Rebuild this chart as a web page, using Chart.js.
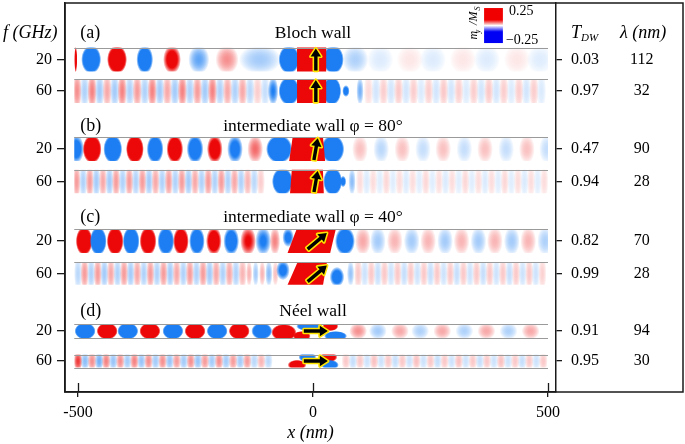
<!DOCTYPE html>
<html>
<head>
<meta charset="utf-8">
<script src="https://cdn.jsdelivr.net/npm/chart.js@4.4.1/dist/chart.umd.min.js"></script>
<style>html,body{margin:0;padding:0;background:#fff}</style>
</head>
<body>
<canvas id="c" width="685" height="444"></canvas>
<script>
// ---- values ----
const panels = ['(a)', '(b)', '(c)', '(d)'];
const titles = ['Bloch wall', 'intermediate wall \u03c6 = 80\u00b0', 'intermediate wall \u03c6 = 40\u00b0', 'N\u00e9el wall'];
const freqs = [20, 60, 20, 60, 20, 60, 20, 60];
const tDW = [0.03, 0.97, 0.47, 0.94, 0.82, 0.99, 0.91, 0.95];
const lambda = [112, 32, 90, 28, 70, 28, 94, 30];
const xTicks = [-500, 0, 500];
const phi = [90, 80, 40, 0];       // wall moment angle (deg)
const arrowX = [6, 6, 9, 6];       // wall centre, nm
const stripX = [-508, 500];        // simulated strip, nm

// blobs: [x nm, m_y (1 = colour limit), width nm, vertical offset, vertical size]
const a20 = [[-505, 1.5, 6], [-472, -3, 38], [-417, 3, 38], [-358, -2.4, 32], [-300, 1.5, 34],
  [-243, -0.7, 40], [-183, 0.45, 44], [-113, -0.4, 80], [-51, -3.5, 40], [43, -3.5, 40], [90, -0.35, 50],
  [143, -0.15, 50], [206, 0.1, 50], [255, -0.15, 50], [319, 0.1, 50], [370, -0.15, 50], [434, 0.1, 50], [483, -0.14, 50]];
const a60 = [[-85, -1, 20], [-51, -3.5, 40], [40, -3.5, 36], [70, -1.5, 14, 0, 0.5], [100, -0.6, 14]];
const a60L = [0.45, -0.35, 0.5, -0.4, 0.35, -0.4, 0.5, -0.35, 0.4, -0.35, 0.5, -0.4, 0.35, -0.4, 0.5, -0.35, 0.4, -0.4, 0.5, -0.35, 0.35, -0.35, 0.35, -0.3, 0.2, -0.25];
const a60R = [0.15, -0.2, 0.2, -0.2, 0.22, -0.2, 0.2, -0.16, 0.2, -0.2, 0.22, -0.2, 0.2, -0.16, 0.2, -0.2, 0.22, -0.2, 0.2, -0.16, 0.2, -0.2, 0.2, -0.16];

const b20 = [[-504, -1.5, 30], [-470, 3, 36], [-426, -3, 36], [-379, 3, 34], [-336, -2.5, 32], [-294, 2.3, 32],
  [-251, -2, 32], [-209, 1.7, 30], [-166, -1.4, 30], [-123, 0.6, 30], [-72, -3.5, 50], [42, -3.5, 44],
  [100, 0.25, 30], [145, -0.3, 30], [190, 0.25, 30], [234, -0.25, 30], [277, 0.25, 30], [322, -0.25, 30],
  [366, 0.25, 30], [411, -0.25, 30], [455, 0.25, 30], [498, -0.25, 30]];
const b60 = [[-65, -3.5, 40], [42, -3.5, 36], [64, -1.5, 12, 0, 0.5], [83, -0.5, 14]];
const b60L = [0.4, -0.35, 0.4, -0.4, 0.35, -0.4, 0.4, -0.35, 0.4, -0.35, 0.4, -0.4, 0.35, -0.35, 0.4, -0.35, 0.4, -0.4, 0.35, -0.35, 0.4, -0.35, 0.4, -0.35, 0.35, -0.35, 0.3, -0.3, 0.2];
const b60R = [0.14, -0.16, 0.14, -0.14, 0.16, -0.14, 0.14, -0.16, 0.14, -0.14, 0.16, -0.14, 0.14, -0.16, 0.14, -0.14, 0.16, -0.14, 0.14, -0.16, 0.14, -0.14, 0.16, -0.14, 0.14, -0.16, 0.14, -0.14, 0.14];

const c20 = [[-487, 3, 32], [-457, -3, 32], [-421, 3, 32], [-387, -3, 32], [-351, 2.8, 32], [-313, -2.6, 32],
  [-281, 2.4, 30], [-247, -2.2, 30], [-211, 1.8, 30], [-174, -1.8, 30], [-138, 1.1, 30], [-106, -1.1, 30],
  [-81, 0.5, 20], [-53, -1.3, 22, -0.3, 0.8], [68, -2.4, 38], [106, 0.35, 30], [138, -0.4, 30], [174, 0.3, 30],
  [210, -0.4, 30], [245, 0.3, 30], [281, -0.4, 30], [316, 0.3, 30], [352, -0.4, 30], [387, 0.3, 30],
  [423, -0.4, 30], [458, 0.3, 30], [494, -0.35, 30]];
const c60 = [[-136, 0.3, 12], [-122, -0.4, 12], [-108, 0.3, 12], [-94, -0.5, 14], [-80, 0.25, 12],
  [-64, -1.3, 26, -0.3, 0.9], [51, -1.6, 28, 0.3, 0.9], [80, -0.45, 14]];
const c60L = [-0.3, 0.4, -0.35, 0.4, -0.4, 0.35, -0.35, 0.4, -0.4, 0.35, -0.35, 0.4, -0.35, 0.4, -0.4, 0.35, -0.35, 0.4, -0.35, 0.4, -0.4, 0.35, -0.35, 0.35, -0.35, 0.3];
const c60R = [0.22, -0.22, 0.22, -0.25, 0.22, -0.22, 0.22, -0.25, 0.22, -0.22, 0.22, -0.25, 0.22, -0.22, 0.22, -0.25, 0.22, -0.22, 0.22, -0.25, 0.22, -0.22, 0.22, -0.25, 0.22, -0.22, 0.22, -0.22, 0.18];

const d20 = [[-485, -4, 40], [-438, 4, 40], [-394, -4, 40], [-347, 4, 40], [-298, -4, 40], [-251, 4, 40],
  [-204, -4, 40], [-157, 4, 40], [-109, -3, 40], [-62, 4, 48, 0.2],
  [-10, -3, 46, -0.7, 0.7], [-24, 3, 34, 0.7, 0.7], [37, 3, 30, -0.7, 0.7], [48, -3, 44, 0.7, 0.7],
  [96, 0.45, 34], [138, -0.4, 34], [185, 0.35, 34], [228, -0.35, 34], [275, 0.35, 34], [322, -0.35, 34],
  [369, 0.35, 34], [416, -0.35, 34], [463, 0.35, 34]];
const d60 = [[-34, 2.5, 36, 0.6, 0.8], [-12, -2.5, 34, -0.6, 0.8], [33, 2.5, 34, -0.6, 0.8], [36, -2.5, 34, 0.6, 0.8]];
const d60L = [0.8, -0.5, 0.45, -0.6, 0.5, -0.45, 0.45, -0.4, 0.5, -0.45, 0.45, -0.4, 0.45, -0.45, 0.4, -0.4, 0.45, -0.45, 0.4, -0.4, 0.45, -0.4, 0.4, -0.4, 0.4, -0.3, 0.3, -0.3];
const d60R = [0.22, -0.25, 0.22, -0.22, 0.25, -0.22, 0.22, -0.25, 0.22, -0.22, 0.25, -0.22, 0.22, -0.25, 0.22, -0.22, 0.25, -0.22, 0.22, -0.25, 0.22, -0.22, 0.25, -0.22, 0.22, -0.25, 0.22, -0.22, 0.22];

// red wall core per strip: [left top, right top, left bottom, right bottom] nm
const walls = [[-34, 28, -34, 28], [-34, 28, -34, 28], [-43, 21, -51, 26], [-45, 21, -49, 23],
  [-34, 49, -55, 36], [-32, 30, -55, 21], null, null];

// ---- layout ----
const rowY = [0, 0.35, 0.995, 1.355, 2.017, 2.378, 3.017, 3.35];
const headY = [-0.29, 0.74, 1.75, 2.8];
const stripH = [0.267, 0.267, 0.267, 0.26, 0.267, 0.25, 0.156, 0.145];
const RED = [236, 8, 8], BLUE = [28, 126, 242];

const rows = [
  { blobs: a20 }, { blobs: a60, left: [-502, a60L], right: [118, a60R] },
  { blobs: b20 }, { blobs: b60, left: [-503, b60L], right: [100, b60R] },
  { blobs: c20 }, { blobs: c60, left: [-500, c60L], right: [96, c60R] },
  { blobs: d20 }, { blobs: d60, left: [-500, d60L], right: [70, d60R] },
];

const datasets = rows.map((row, r) => {
  const pts = row.blobs.map(b => ({ x: b[0], y: rowY[r], a: b[1], w: b[2] * 1.12, dy: b[3] || 0, ry: b[4] || 1.2 }));
  const step = lambda[r] / 2;
  [row.left, row.right].forEach(g => {
    if (!g) return;
    g[1].forEach((v, k) => pts.push({ x: g[0] + k * step, y: rowY[r], a: v, w: step * 1.25, dy: 0, ry: 1.6 }));
  });
  return { data: pts, pointRadius: 0, pointHoverRadius: 0, showLine: false, xAxisID: 'x', yAxisID: 'y' };
});

function blob(ctx, cx, cy, rx, ry, a) {
  const c = a > 0 ? RED : BLUE;
  const m = Math.abs(a);
  ctx.save();
  ctx.translate(cx, cy);
  ctx.scale(rx, ry);
  const g = ctx.createRadialGradient(0, 0, 0, 0, 0, 1);
  for (let i = 0; i <= 12; i++) {
    const r = i / 12;
    const al = Math.max(0, Math.min(1, m * (1 - r * r)));
    g.addColorStop(r, `rgba(${c[0]},${c[1]},${c[2]},${al.toFixed(3)})`);
  }
  ctx.fillStyle = g;
  ctx.beginPath();
  ctx.arc(0, 0, 1, 0, Math.PI * 2);
  ctx.fill();
  ctx.restore();
}

function arrow(ctx, cx, cy, ang, L) {
  ctx.save();
  ctx.translate(cx, cy);
  ctx.rotate(-ang * Math.PI / 180);
  const hl = 8, sw = 1.7, hw = 5.2;
  ctx.beginPath();
  ctx.moveTo(-L / 2, -sw);
  ctx.lineTo(L / 2 - hl, -sw);
  ctx.lineTo(L / 2 - hl, -hw);
  ctx.lineTo(L / 2, 0);
  ctx.lineTo(L / 2 - hl, hw);
  ctx.lineTo(L / 2 - hl, sw);
  ctx.lineTo(-L / 2, sw);
  ctx.closePath();
  ctx.lineJoin = 'round';
  ctx.strokeStyle = '#ffe400';
  ctx.lineWidth = 3.2;
  ctx.stroke();
  ctx.fillStyle = '#000';
  ctx.fill();
  ctx.restore();
}

const strips = {
  id: 'strips',
  beforeDatasetsDraw(chart) {
    const { ctx, scales: { x, y } } = chart;
    const unit = Math.abs(y.getPixelForValue(1) - y.getPixelForValue(0));
    const x0 = x.getPixelForValue(stripX[0]), x1 = x.getPixelForValue(stripX[1]);
    rows.forEach((row, r) => {
      const yc = y.getPixelForValue(rowY[r]);
      const h = stripH[r] * unit;
      const top = yc - h / 2, bot = yc + h / 2;
      ctx.save();
      ctx.beginPath();
      ctx.rect(x0, top, x1 - x0, h);
      ctx.clip();
      ctx.fillStyle = '#fff';
      ctx.fillRect(x0, top, x1 - x0, h);
      const meta = chart.getDatasetMeta(r);
      meta.data.forEach((el, k) => {
        const p = datasets[r].data[k];
        const rx = Math.abs(x.getPixelForValue(p.x + p.w / 2) - el.x);
        blob(ctx, el.x, el.y + p.dy * h / 2, rx, p.ry * h / 2, p.a);
      });
      const w = walls[r];
      if (w) {
        ctx.fillStyle = 'rgb(236,8,8)';
        ctx.beginPath();
        ctx.moveTo(x.getPixelForValue(w[0]), top - 1);
        ctx.lineTo(x.getPixelForValue(w[1]), top - 1);
        ctx.lineTo(x.getPixelForValue(w[3]), bot + 1);
        ctx.lineTo(x.getPixelForValue(w[2]), bot + 1);
        ctx.closePath();
        ctx.fill();
      }
      ctx.restore();
      ctx.strokeStyle = '#9a9a9a';
      ctx.lineWidth = 1;
      ctx.beginPath();
      ctx.moveTo(x0, Math.round(top) + 0.5);
      ctx.lineTo(x1, Math.round(top) + 0.5);
      if (r >= 6) {
        ctx.moveTo(x0, Math.round(bot) + 0.5);
        ctx.lineTo(x1, Math.round(bot) + 0.5);
      }
      ctx.stroke();
      const gi = Math.floor(r / 2);
      const L = gi === 2 ? 25 : gi === 3 ? 24 : h - 2;
      arrow(ctx, x.getPixelForValue(arrowX[gi]), yc, phi[gi], L);
    });
  },
  afterDraw(chart) {
    const { ctx, chartArea: ca, scales: { x, y, y2, y3 } } = chart;
    ctx.save();
    // frame
    ctx.strokeStyle = '#1a1a1a';
    ctx.lineWidth = 1.5;
    ctx.strokeRect(ca.left, ca.top, chart.width - 2 - ca.left, ca.bottom - ca.top);
    // inner half of x ticks
    ctx.lineWidth = 1.3;
    xTicks.forEach(v => {
      const px = Math.round(x.getPixelForValue(v)) + 0.5;
      ctx.beginPath();
      ctx.moveTo(px, ca.bottom - 9);
      ctx.lineTo(px, ca.bottom);
      ctx.stroke();
    });
    ctx.fillStyle = '#000';
    ctx.textBaseline = 'middle';
    // panel letters and titles
    panels.forEach((p, i) => {
      const py = y.getPixelForValue(headY[i]);
      ctx.font = '18px "Liberation Serif"';
      ctx.textAlign = 'left';
      ctx.fillText(p, x.getPixelForValue(-495), py);
      ctx.font = '17.5px "Liberation Serif"';
      ctx.textAlign = 'center';
      ctx.fillText(titles[i], x.getPixelForValue(0), py);
    });
    // column heads
    const hy = y.getPixelForValue(headY[0]);
    ctx.textAlign = 'left';
    ctx.font = 'italic 18px "Liberation Serif"';
    ctx.fillText('f (GHz)', 3, hy);
    const tx = y2.left + 15;
    ctx.fillText('T', tx, hy);
    ctx.font = 'italic 11px "Liberation Serif"';
    ctx.fillText('DW', tx + 10, hy + 5);
    ctx.font = 'italic 18px "Liberation Serif"';
    ctx.fillText('\u03bb (nm)', y3.left + 5, hy);
    // colour bar
    const cx0 = x.getPixelForValue(364), cx1 = x.getPixelForValue(404);
    const cy0 = y.getPixelForValue(-0.572), cy1 = y.getPixelForValue(-0.183);
    const g = ctx.createLinearGradient(0, cy0, 0, cy1);
    g.addColorStop(0, 'rgb(240,0,0)');
    g.addColorStop(0.34, 'rgb(240,0,0)');
    g.addColorStop(0.5, 'rgb(255,255,255)');
    g.addColorStop(0.68, 'rgb(0,0,245)');
    g.addColorStop(1, 'rgb(0,0,245)');
    ctx.fillStyle = g;
    ctx.fillRect(cx0, cy0, cx1 - cx0, cy1 - cy0);
    ctx.fillStyle = '#000';
    ctx.font = '14px "Liberation Serif"';
    ctx.fillText('0.25', cx1 + 6, cy0 + 3);
    ctx.fillText('\u22120.25', cx1 + 3, cy1 - 3);
    ctx.save();
    ctx.translate(cx0 - 10, (cy0 + cy1) / 2);
    ctx.rotate(-Math.PI / 2);
    ctx.textAlign = 'center';
    ctx.font = 'italic 12px "Liberation Serif"';
    ctx.fillText('m  /M', 0, 0);
    ctx.font = 'italic 8px "Liberation Serif"';
    ctx.fillText('y', -6, 4);
    ctx.fillText('S', 17, 4);
    ctx.restore();
    ctx.restore();
  },
};

const tickFont = { family: 'Liberation Serif', size: 16 };
const noPad = s => { s.paddingTop = 0; s.paddingBottom = 0; s.paddingLeft = 0; s.paddingRight = 0; };
const yBase = { min: -0.628, max: 3.694, reverse: true,
  afterBuildTicks: s => { s.ticks = rowY.map(v => ({ value: v })); } };

new Chart(document.getElementById('c'), {
  type: 'scatter',
  data: { datasets },
  options: {
    responsive: false,
    animation: false,
    events: [],
    layout: { padding: { top: 3, right: 16, left: 0, bottom: 0 } },
    plugins: { legend: { display: false }, tooltip: { enabled: false } },
    scales: {
      x: {
        type: 'linear', min: -527.7, max: 517,
        afterBuildTicks: s => { s.ticks = xTicks.map(v => ({ value: v })); },
        afterFit: s => { s.height = 52; noPad(s); },
        ticks: { font: tickFont, color: '#000', padding: 6, maxRotation: 0 },
        grid: { drawOnChartArea: false, tickLength: 5, color: '#1a1a1a', lineWidth: 1.3 },
        border: { color: '#1a1a1a', width: 1.5 },
        title: { display: true, text: 'x (nm)', color: '#000', padding: { top: 0, bottom: 0 },
          font: { family: 'Liberation Serif', size: 18, style: 'italic' } },
      },
      y: {
        ...yBase, position: 'left',
        afterFit: s => { s.width = 65; noPad(s); },
        ticks: { font: tickFont, color: '#000', padding: 5, callback: (v, i) => freqs[i] },
        grid: { drawOnChartArea: false, tickLength: 8, color: '#1a1a1a', lineWidth: 1.3 },
        border: { color: '#1a1a1a', width: 1.5 },
      },
      y2: {
        ...yBase, position: 'right',
        afterFit: s => { s.width = 59; noPad(s); },
        ticks: { font: tickFont, color: '#000', padding: 9, crossAlign: 'near', callback: (v, i) => tDW[i].toFixed(2) },
        grid: { drawOnChartArea: false, tickLength: 6, color: '#1a1a1a', lineWidth: 1.3 },
        border: { color: '#1a1a1a', width: 1.5 },
      },
      y3: {
        ...yBase, position: 'right',
        afterFit: s => { s.width = 54; noPad(s); },
        ticks: { font: tickFont, color: '#000', padding: 15, crossAlign: 'center', callback: (v, i) => lambda[i] },
        grid: { display: false, drawTicks: false, tickLength: 0 },
        border: { display: false },
      },
    },
  },
  plugins: [strips],
});
</script>
</body>
</html>
